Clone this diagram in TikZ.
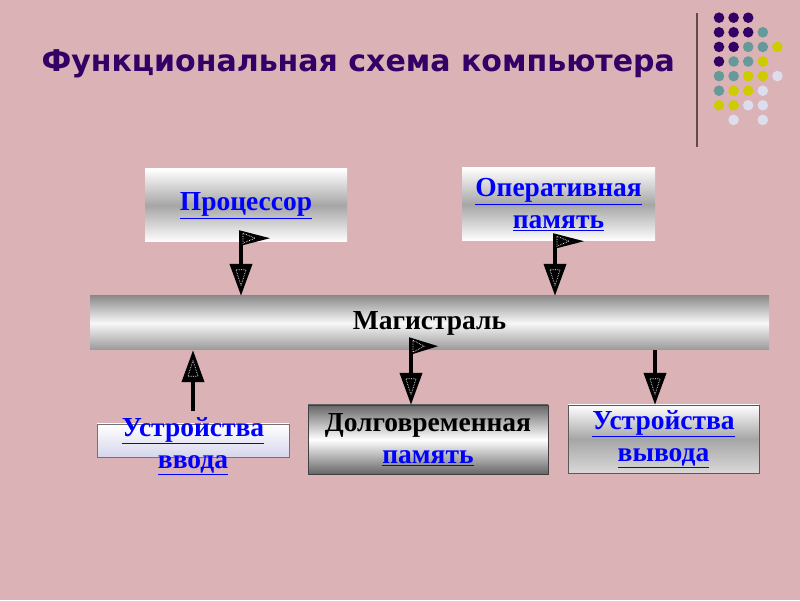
\documentclass[tikz,border=0pt]{standalone}
\usepackage{fontspec}
\setmainfont{Liberation Serif}
\newfontfamily\titlefont{DejaVu Sans}
\usepackage{xcolor}
\usetikzlibrary{arrows.meta,positioning,calc}
\definecolor{bgpink}{RGB}{219,178,182}
\definecolor{titlepurple}{RGB}{51,0,102}
\definecolor{dotpurple}{RGB}{51,0,102}
\definecolor{dotteal}{RGB}{102,153,153}
\definecolor{dotlime}{RGB}{204,204,0}
\definecolor{dotlav}{RGB}{221,221,238}
\definecolor{linkblue}{RGB}{0,0,255}
\definecolor{rulegray}{RGB}{95,75,75}
\definecolor{lavwhite}{RGB}{214,214,236}
\newcommand{\lnk}[1]{\textcolor{linkblue}{\underline{#1}}}
\tikzset{
  box/.style={align=center, inner sep=0pt, font=\fontsize{27.5}{32}\selectfont\bfseries},
  shinebox/.style={box, top color=white, bottom color=white, middle color=black!35},
  darkbox/.style={box, draw=black!75, top color=black!60, bottom color=black!60, middle color=white},
  outbox/.style={box, draw=black!65, top color=white, bottom color=white!85!black, middle color=black!35},
  inbox/.style={draw=black!55, top color=white, bottom color=lavwhite},
  busbar/.style={box, top color=black!45, bottom color=black!40, middle color=black!3},
  link/.style={line width=4pt, -{Triangle[length=32pt,width=22pt]}},
  flag/.style={fill=black},
  tipmark/.style={white, line width=0.7pt, densely dotted}
}

\begin{document}
\begin{tikzpicture}[x=1pt, y=1pt]
  \fill[bgpink] (0,0) rectangle (800,600);

  % title and corner decoration
  \node[anchor=base west, text=titlepurple, font=\titlefont\bfseries\fontsize{30}{35}\selectfont] (title) at (38,528) {Функциональная схема компьютера};
  \draw[rulegray, line width=1.5pt] (697,587) -- (697,453);
  \foreach \r/\row in {0/{dotpurple,dotpurple,dotpurple},
                       1/{dotpurple,dotpurple,dotpurple,dotteal},
                       2/{dotpurple,dotpurple,dotteal,dotteal,dotlime},
                       3/{dotpurple,dotteal,dotteal,dotlime},
                       4/{dotteal,dotteal,dotlime,dotlime,dotlav},
                       5/{dotteal,dotlime,dotlime,dotlav},
                       6/{dotlime,dotlime,dotlav,dotlav},
                       7/{none,dotlav,none,dotlav}}
    \foreach \col [count=\c from 0] in \row
      \fill[fill=\col] (719+14.6*\c, 582.3-14.6*\r) circle (5.3);

  % units
  \node[shinebox, minimum width=202pt, minimum height=73pt] (proc) at (246,394.5) {\lnk{Процессор}};
  \node[shinebox, minimum width=193pt, minimum height=73pt] (ram) at (558.5,395.5) {\lnk{Оперативная}\\\lnk{память}};
  \node[busbar, minimum width=679pt, minimum height=54pt] (bus) at (429.5,277) {Магистраль};
  \node[inbox, minimum width=192pt, minimum height=33pt] (inp) at (193,159.5) {};
  \node[box] (inptext) at (193,154) {\lnk{Устройства}\\\lnk{ввода}};
  \node[darkbox, minimum width=240pt, minimum height=69pt] (store) at (428,160.5) {Долговременная\\\lnk{память}};
  \node[outbox, minimum width=191pt, minimum height=68pt] (out) at (663.5,161) {\lnk{Устройства}\\\lnk{вывода}};

  % connectors
  \coordinate (procpin) at ([xshift=-5pt]proc.south);
  \coordinate (rampin) at ([xshift=-3.5pt]ram.south);
  \coordinate (storepin) at ([xshift=-17pt]store.north);
  \coordinate (outpin) at ([xshift=-8.5pt]out.north);

  \draw[link] ([yshift=10pt]procpin) -- (procpin |- bus.north);
  \fill[flag] ([xshift=-2pt,yshift=12pt]procpin) -- ++(31,-8) -- ++(-31,-8) -- cycle;
  \draw[link] ([yshift=6pt]rampin) -- (rampin |- bus.north);
  \fill[flag] ([xshift=-2pt,yshift=8pt]rampin) -- ++(31,-8) -- ++(-31,-8) -- cycle;
  \draw[link] ([yshift=6pt]inptext.north) -- (inptext.north |- bus.south);
  \draw[link] (storepin |- bus.south) ++(0,11) -- (storepin);
  \fill[flag] ([xshift=-2pt,yshift=13pt]storepin |- bus.south) -- ++(29,-9) -- ++(-29,-9) -- cycle;
  \draw[link] (outpin |- bus.south) -- (outpin);

  % dotted marks inside the heads
  \draw[tipmark] (procpin |- bus.north) ++(-5,26) -- ++(10,0) -- ++(-5,-16) -- cycle;
  \draw[tipmark] (rampin |- bus.north) ++(-5,26) -- ++(10,0) -- ++(-5,-16) -- cycle;
  \draw[tipmark] (inptext.north |- bus.south) ++(-5,-26) -- ++(10,0) -- ++(-5,16) -- cycle;
  \draw[tipmark] (storepin) ++(-5,26) -- ++(10,0) -- ++(-5,-16) -- cycle;
  \draw[tipmark] (outpin) ++(-5,26) -- ++(10,0) -- ++(-5,-16) -- cycle;
  \draw[tipmark] ([xshift=2pt,yshift=9pt]procpin) -- ++(12,-5) -- ++(-12,-5) -- cycle;
  \draw[tipmark] ([xshift=2pt,yshift=5pt]rampin) -- ++(12,-5) -- ++(-12,-5) -- cycle;
  \draw[tipmark] ([xshift=2pt,yshift=10pt]storepin |- bus.south) -- ++(11,-6) -- ++(-11,-6) -- cycle;
\end{tikzpicture}
\end{document}
